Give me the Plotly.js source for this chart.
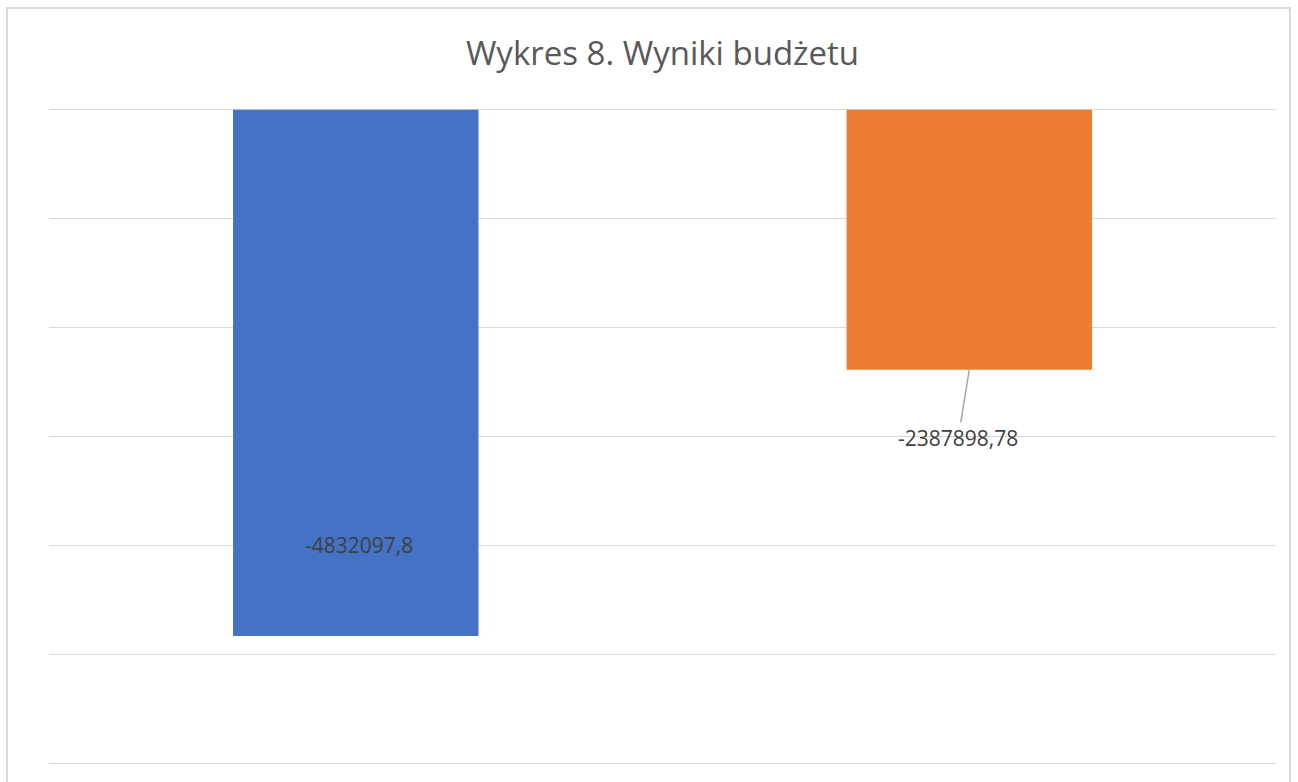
<!DOCTYPE html>
<html>
<head>
<meta charset="utf-8">
<script src="https://cdn.plot.ly/plotly-3.0.1.min.js"></script>
<style>
  html, body { margin: 0; padding: 0; background: #fff; overflow: hidden; }
  #wrap { position: relative; width: 1298px; height: 782px; }
  #frame { position: absolute; left: 6px; top: 7px; width: 1285px; height: 800px; border: 2px solid #d9d9d9; box-sizing: border-box; pointer-events: none; }
  #chart { position: absolute; left: 0; top: 0; width: 1298px; height: 782px; }
</style>
</head>
<body>
<div id="wrap">
  <div id="chart"></div>
  <div id="frame"></div>
</div>
<script>
const categories = ['Wynik 1', 'Wynik 2'];
const values = [-4832097.8, -2387898.78];
const valueLabels = ['-4832097,8', '-2387898,78'];
const colors = ['#4472C4', '#ED7D31'];
const labelY = [-4000000, null];

const trace = {
  type: 'bar',
  x: categories,
  y: values,
  marker: { color: colors },
  width: 0.4,
  hoverinfo: 'none'
};

const labelFont = { family: 'Open Sans, sans-serif', size: 21, color: '#404040' };

const annotations = [
  {
    x: categories[0], y: labelY[0], xref: 'x', yref: 'y',
    text: valueLabels[0], showarrow: false, xshift: 3,
    font: labelFont
  },
  {
    x: categories[1], y: values[1], xref: 'x', yref: 'y',
    text: valueLabels[1], showarrow: true, arrowhead: 0,
    arrowwidth: 1.5, arrowcolor: '#a6a6a6', ax: -11, ay: 68,
    standoff: 0, startstandoff: 0,
    font: labelFont
  }
];

const layout = {
  width: 1298, height: 782,
  margin: { l: 49, r: 22, t: 108, b: 17, pad: 0 },
  paper_bgcolor: '#ffffff', plot_bgcolor: '#ffffff',
  title: {
    text: 'Wykres 8. Wyniki budżetu',
    x: 0.5, xanchor: 'center', xref: 'paper',
    y: 1 - 53 / 782, yanchor: 'middle',
    font: { family: 'Open Sans, sans-serif', size: 33, color: '#595959' }
  },
  showlegend: false,
  xaxis: {
    type: 'category', showticklabels: false, showgrid: false,
    zeroline: false, showline: false, ticks: ''
  },
  yaxis: {
    range: [-6015000, 15000], dtick: 1000000, tick0: 0, showticklabels: false,
    showgrid: true, gridcolor: '#d9d9d9', gridwidth: 1.5,
    zeroline: false, showline: false, ticks: ''
  },
  annotations: annotations
};

Plotly.newPlot('chart', [trace], layout, { displayModeBar: false, staticPlot: true });
</script>
</body>
</html>
